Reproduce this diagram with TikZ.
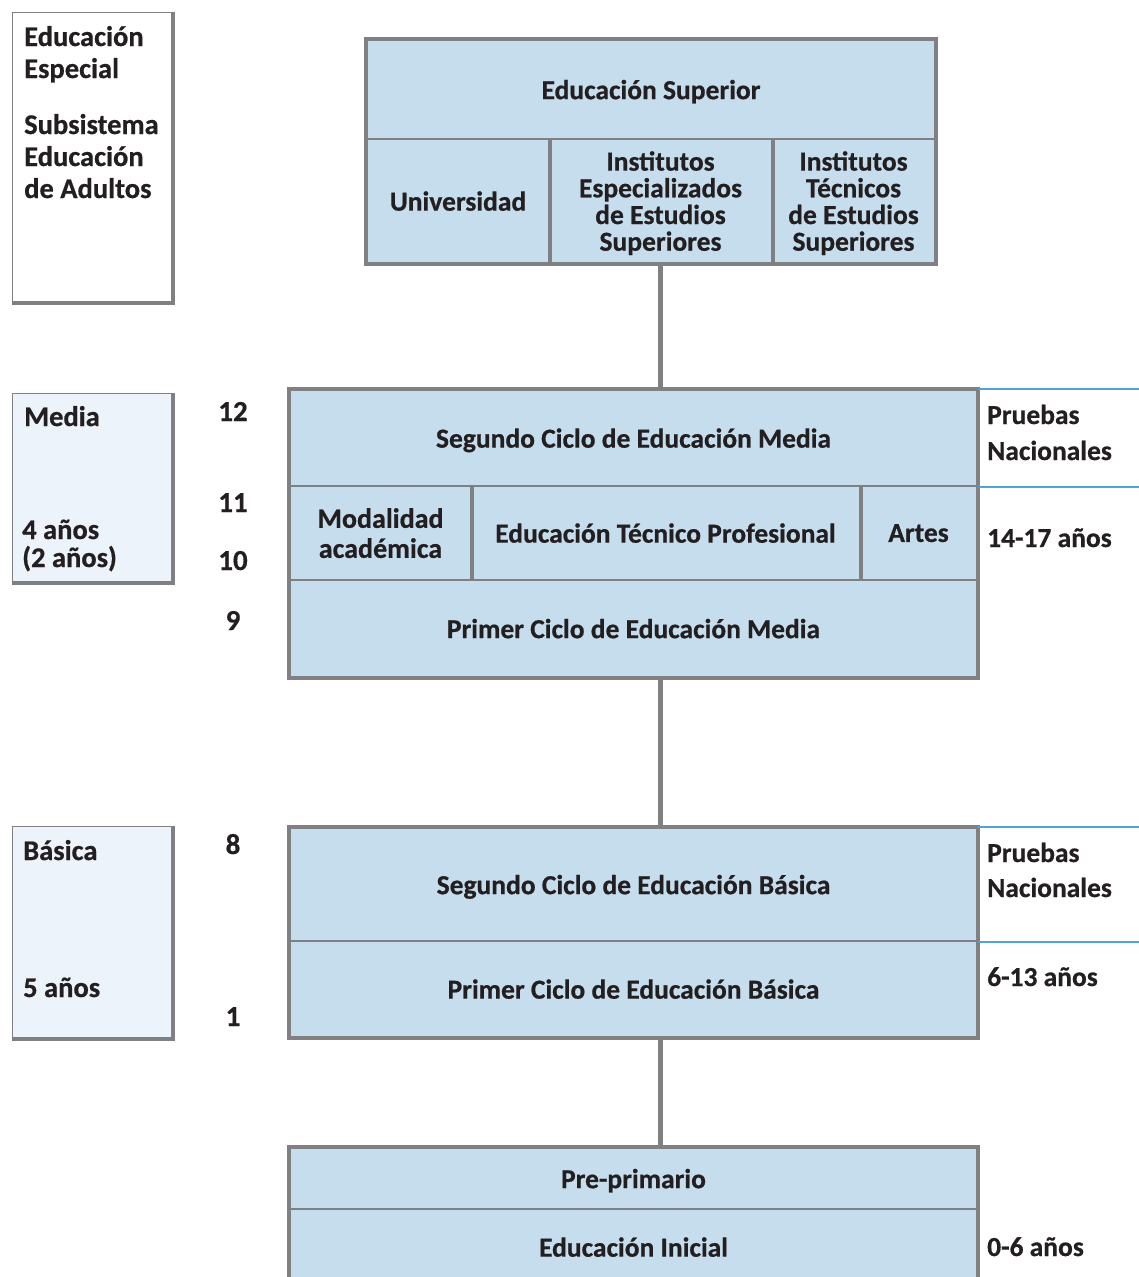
\documentclass[tikz,border=0pt]{standalone}
\usepackage{fontspec}
\setmainfont{Carlito}[BoldFeatures={FakeBold=0.6}]
\definecolor{cellblue}{RGB}{198,221,237}
\definecolor{framegray}{RGB}{128,128,130}
\definecolor{panelblue}{RGB}{237,243,250}
\definecolor{ruleblue}{RGB}{80,163,213}
\definecolor{inkblack}{RGB}{35,31,32}
\begin{document}
\begin{tikzpicture}[x=1pt,y=-1pt,
  cell/.style={draw=framegray, line width=2pt, fill=cellblue, inner sep=0pt,
    text depth=0pt, align=center, text=inkblack,
    font=\fontsize{27.5}{26.7}\selectfont\bfseries},
  frame/.style={draw=framegray, line width=4pt},
  divider/.style={draw=framegray, line width=4pt},
  panel/.style={draw=framegray, line width=1pt, inner sep=0pt},
  panelshadow/.style={draw=framegray, line width=4pt},
  conn/.style={draw=framegray, line width=4.5pt},
  rule/.style={draw=ruleblue, line width=1.5pt},
  lbl/.style={inner sep=0pt, anchor=base west, text=inkblack,
    font=\fontsize{28.5}{31}\selectfont\bfseries},
  rlbl/.style={lbl, font=\fontsize{27.5}{31}\selectfont\bfseries},
  num/.style={inner sep=0pt, anchor=base, text=inkblack,
    font=\fontsize{29}{31}\selectfont\bfseries}]
\useasboundingbox (0,0) rectangle (1139,1277);

% side panels
\node[panel, fill=white, minimum width=160pt, minimum height=290pt] (esp) at (92,157) {};
\draw[panelshadow] (esp.north east) -- (esp.south east) -- (esp.south west);
\node[lbl] (espA) at (24,46) {Educación};
\node[lbl] (espB) at (24,78) {Especial};
\node[lbl] (adA) at (24,134) {Subsistema};
\node[lbl] (adB) at (24,166) {Educación};
\node[lbl] (adC) at (24,198) {de Adultos};

\node[panel, fill=panelblue, minimum width=160pt, minimum height=189pt] (med) at (92,487.5) {};
\draw[panelshadow] (med.north east) -- (med.south east) -- (med.south west);
\node[lbl] (medA) at (24,426) {Media};
\node[lbl] (medB) at (22,539) {4 años};
\node[lbl] (medC) at (22,567) {(2 años)};

\node[panel, fill=panelblue, minimum width=160pt, minimum height=212pt] (bas) at (92,932) {};
\draw[panelshadow] (bas.north east) -- (bas.south east) -- (bas.south west);
\node[lbl] (basA) at (23,860) {Básica};
\node[lbl] (basB) at (23,997) {5 años};

% grade numbers
\node[num] (g12) at (233,421) {12};
\node[num] (g11) at (233,512) {11};
\node[num] (g10) at (233,570) {10};
\node[num] (g9) at (233,630) {9};
\node[num] (g8) at (233,854) {8};
\node[num] (g1) at (233,1026) {1};

% higher education
\node[cell, minimum width=568pt, minimum height=99pt] (sup) at (651,89.5) {Educación Superior};
\node[cell, minimum width=182pt, minimum height=124pt] (univ) at (458,201) {Universidad};
\node[cell, minimum width=223pt, minimum height=124pt] (iees) at (660.5,201) {Institutos\\Especializados\\de Estudios\\Superiores};
\node[cell, minimum width=163pt, minimum height=124pt] (itss) at (853.5,201) {Institutos\\Técnicos\\de Estudios\\Superiores};
\draw[divider] (univ.north east) -- (univ.south east);
\draw[divider] (iees.north east) -- (iees.south east);
\draw[frame] (sup.north west) rectangle (itss.south east);

% secondary education
\node[cell, minimum width=687pt, minimum height=96pt] (scm) at (633.5,438) {Segundo Ciclo de Educación Media};
\node[cell, minimum width=181pt, minimum height=94pt, font=\fontsize{28}{30}\selectfont\bfseries] (mod) at (380.5,533) {Modalidad\\académica};
\node[cell, minimum width=389pt, minimum height=94pt] (etp) at (665.5,533) {Educación Técnico Profesional};
\node[cell, minimum width=117pt, minimum height=94pt] (art) at (918.5,533) {Artes};
\node[cell, minimum width=687pt, minimum height=97pt] (pcm) at (633.5,628.5) {Primer Ciclo de Educación Media};
\draw[divider] (mod.north east) -- (mod.south east);
\draw[divider] (etp.north east) -- (etp.south east);
\draw[frame] (scm.north west) rectangle (pcm.south east);

% basic education
\node[cell, minimum width=687pt, minimum height=113pt] (scb) at (633.5,884.5) {Segundo Ciclo de Educación Básica};
\node[cell, minimum width=687pt, minimum height=96pt] (pcb) at (633.5,989) {Primer Ciclo de Educación Básica};
\draw[frame] (scb.north west) rectangle (pcb.south east);

% initial education
\node[cell, minimum width=687pt, minimum height=61pt] (pre) at (633.5,1178.5) {Pre-primario};
\node[cell, minimum width=687pt, minimum height=76pt] (ini) at (633.5,1247) {Educación Inicial};
\draw[frame] (pre.north west) rectangle (ini.south east);

% connectors between levels
\draw[conn] (iees.south) -- (iees.south |- scm.north);
\draw[conn] (pcm.south -| iees.south) -- (scb.north -| iees.south);
\draw[conn] (pcb.south -| iees.south) -- (pre.north -| iees.south);

% right-hand notes
\coordinate (edge) at (1139,0);
\draw[rule] (scm.north east) -- (edge |- scm.north east);
\draw[rule] (scm.south east) -- (edge |- scm.south east);
\draw[rule] (scb.north east) -- (edge |- scb.north east);
\draw[rule] (scb.south east) -- (edge |- scb.south east);
\node[rlbl] (pnA) at (987,424) {Pruebas};
\node[rlbl] (pnB) at (987,460) {Nacionales};
\node[rlbl] (ageM) at (987,547) {14-17 años};
\node[rlbl] (pbA) at (987,862) {Pruebas};
\node[rlbl] (pbB) at (987,897) {Nacionales};
\node[rlbl] (ageB) at (987,986) {6-13 años};
\node[rlbl] (ageI) at (987,1256) {0-6 años};
\end{tikzpicture}
\end{document}
